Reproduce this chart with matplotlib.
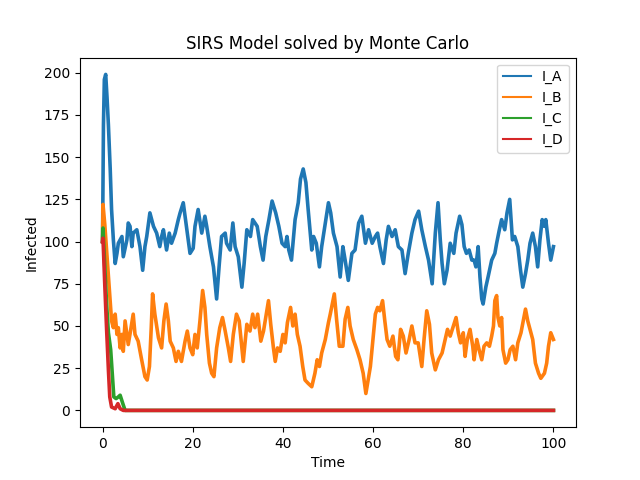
import matplotlib

matplotlib.use("Agg")
from matplotlib import pyplot as plt

# values
t_a = [0, 0.2, 0.4, 0.7, 1.0, 1.3, 1.7, 2.0, 2.4, 2.8, 3.2, 3.5, 4.3, 4.6, 5.4, 5.7,
       6.1, 6.5, 6.8, 7.6, 8.3, 8.9, 9.4, 9.8, 10.5, 11.3, 12.0, 12.7, 13.1, 13.5,
       14.2, 14.8, 15.3, 16.1, 16.8, 17.2, 17.9, 18.7, 19.4, 20.1, 20.5, 21.2, 22.0,
       22.7, 23.1, 23.8, 24.6, 25.3, 25.9, 26.4, 27.2, 27.5, 28.3, 28.9, 29.4, 30.1,
       30.9, 31.4, 32.0, 32.8, 33.3, 34.3, 35.0, 35.6, 36.2, 36.9, 37.6, 38.4, 39.1,
       39.8, 40.5, 40.9, 41.3, 41.9, 42.7, 43.4, 43.9, 44.5, 45.1, 45.6, 46.4, 46.8,
       47.4, 48.1, 48.6, 49.4, 50.1, 50.6, 51.2, 52.0, 52.7, 53.3, 53.8, 54.5, 55.3,
       56.0, 56.8, 57.5, 58.3, 59.0, 59.8, 60.5, 61.0, 61.5, 62.3, 62.9, 63.4, 64.2,
       64.9, 65.6, 66.4, 67.1, 67.8, 68.6, 69.3, 70.1, 70.8, 71.6, 72.3, 73.1, 73.8,
       74.4, 74.9, 75.3, 75.8, 76.4, 77.1, 77.9, 78.4, 79.2, 79.7, 80.2, 80.7, 81.3,
       81.9, 82.4, 82.8, 83.3, 83.7, 84.1, 84.4, 85.0, 85.5, 86.3, 87.0, 87.4, 88.0,
       88.5, 89.2, 89.7, 90.3, 90.9, 91.4, 92.1, 92.7, 93.2, 93.8, 94.3, 94.8, 95.4,
       96.0, 96.5, 97.0, 97.5, 98.0, 98.3, 98.9, 99.4, 100.0]
i_a = [100, 169, 196, 199, 185, 169, 143, 119, 101, 87, 93, 99, 103, 91, 101, 111,
       109, 97, 105, 107, 97, 83, 97, 103, 117, 109, 105, 97, 103, 107,
       95, 105, 99, 105, 113, 117, 123, 107, 93, 96, 109, 119, 105,
       115, 109, 97, 85, 66, 87, 103, 105, 99, 95, 111, 97, 91,
       73, 87, 107, 103, 113, 109, 97, 89, 103, 113, 124, 117, 109,
       99, 97, 103, 95, 89, 113, 123, 137, 143, 135, 119, 95, 103,
       99, 85, 97, 111, 123, 117, 105, 97, 79, 97, 89, 77, 93,
       95, 111, 115, 99, 107, 99, 103, 105, 97, 87, 101, 109, 103,
       107, 97, 95, 81, 93, 105, 113, 118, 107, 97, 89, 75, 105,
       123, 101, 87, 75, 83, 99, 93, 105, 115, 110, 97, 93, 95,
       89, 89, 85, 97, 79, 66, 63, 73, 79, 89, 93, 99, 107,
       113, 107, 117, 125, 101, 103, 97, 83, 73, 81, 89, 99, 105,
       97, 85, 101, 113, 109, 113, 99, 89, 97]

t_b = [0, 0.1, 0.5, 0.9, 1.3, 1.7, 2.0, 2.4, 2.8, 3.2, 3.5, 3.9, 4.3, 4.6, 5.0, 5.4,
       5.7, 6.2, 6.8, 7.2, 7.9, 8.6, 9.4, 9.9, 10.4, 10.8, 11.1, 11.6, 12.4, 13.1,
       13.6, 14.1, 14.6, 15.0, 15.7, 16.3, 16.8, 17.5, 18.3, 18.8, 19.4, 20.0, 20.5,
       21.0, 21.6, 22.2, 22.7, 23.1, 23.7, 24.2, 24.7, 25.3, 26.0, 26.6, 27.2, 27.9,
       28.4, 29.0, 29.7, 30.3, 30.9, 31.2, 32.0, 32.7, 33.3, 33.8, 34.4, 35.1, 35.7,
       36.3, 36.8, 37.3, 37.9, 38.3, 38.8, 39.4, 40.0, 40.5, 41.0, 41.7, 42.2, 42.7,
       43.2, 43.8, 44.4, 44.9, 45.6, 46.4, 47.1, 47.6, 48.1, 48.6, 49.4, 50.1, 50.5,
       51.1, 51.4, 51.9, 52.5, 53.3, 53.8, 54.4, 54.9, 55.6, 56.4, 57.1, 57.8, 58.4,
       58.9, 59.4, 60.0, 60.5, 61.0, 61.5, 62.1, 62.6, 63.1, 63.7, 64.4, 65.0, 65.5,
       66.1, 66.7, 67.3, 68.0, 68.6, 69.3, 70.0, 70.8, 71.3, 71.9, 72.5, 73.0, 73.8,
       74.5, 75.3, 76.0, 76.5, 77.1, 77.8, 78.4, 78.9, 79.4, 80.0, 80.4, 80.9, 81.5,
       82.1, 82.4, 83.0, 83.5, 84.1, 84.6, 85.2, 85.8, 86.3, 86.7, 87.0, 87.4, 87.7,
       88.1, 88.5, 88.8, 89.4, 89.9, 90.4, 91.0, 91.6, 92.1, 92.8, 93.3, 93.8, 94.3,
       94.8, 95.4, 96.0, 96.7, 97.2, 98.0, 98.5, 98.9, 99.4, 100.0]
i_b = [100, 122, 110, 95, 80, 65, 53, 49, 57, 45, 49, 37, 45, 35, 53, 45,
       39, 47, 57, 45, 41, 31, 20, 18, 26, 49, 69, 57, 43, 37,
       53, 63, 53, 41, 37, 29, 35, 29, 41, 47, 37, 33, 45,
       37, 53, 71, 61, 45, 28, 22, 20, 37, 49, 55, 47, 37,
       29, 45, 57, 53, 37, 29, 51, 47, 57, 49, 57, 41, 47,
       57, 65, 51, 37, 29, 37, 35, 45, 40, 52, 61, 50, 57,
       45, 38, 26, 18, 16, 14, 22, 30, 26, 34, 42, 52, 57,
       65, 69, 54, 38, 38, 54, 61, 50, 42, 36, 30, 22, 10,
       18, 26, 43, 57, 61, 59, 65, 53, 42, 38, 44, 32, 30,
       48, 44, 34, 42, 50, 40, 40, 26, 42, 59, 51, 34, 24,
       30, 34, 42, 48, 44, 50, 55, 46, 40, 46, 32, 42, 48,
       38, 30, 42, 36, 30, 38, 40, 38, 44, 50, 65, 68, 55,
       50, 55, 36, 28, 30, 36, 38, 30, 40, 46, 53, 60, 53,
       48, 42, 28, 22, 19, 22, 28, 38, 46, 42]

t_c = [0, 0.1, 0.5, 0.9, 1.3, 1.8, 2.2, 2.5, 3.0, 3.5, 3.9, 4.5, 5.0, 100]
i_c = [100, 108, 85, 63, 46, 36, 20, 8, 7, 8, 9, 4, 0, 0]

t_d = [0, 0.1, 0.5, 0.9, 1.3, 1.6, 2.0, 2.8, 3.4, 3.9, 4.6, 100]
i_d = [100, 102, 74, 48, 24, 8, 2, 1, 4, 1, 0, 0]

fig = plt.figure(figsize=(6.4, 4.8))
ax = fig.add_subplot(1, 1, 1)
# the simulated traces are dense and jittery, so draw them a bit heavier
ax.plot(t_a, i_a, label="I_A", lw=2.6)
ax.plot(t_b, i_b, label="I_B", lw=2.6)
ax.plot(t_c, i_c, label="I_C", lw=2.6)
ax.plot(t_d, i_d, label="I_D", lw=2.6)
leg = ax.legend()
for line in leg.get_lines():
    line.set_linewidth(1.5)
ax.set(title="SIRS Model solved by Monte Carlo", xlabel="Time", ylabel="Infected")
fig.savefig("out.png", dpi=100)
